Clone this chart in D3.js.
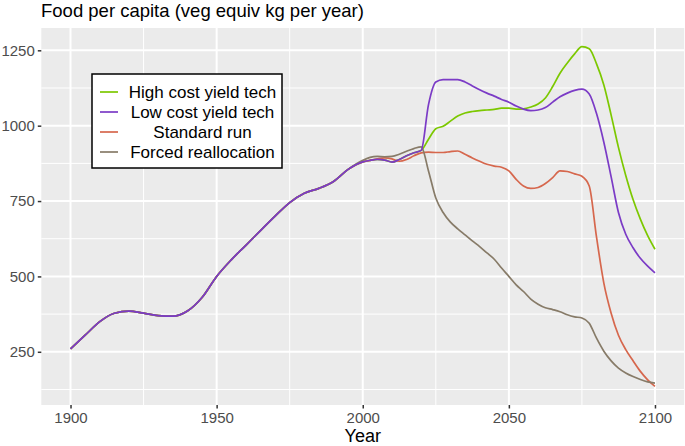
<!DOCTYPE html>
<html><head><meta charset="utf-8">
<script src="https://cdn.jsdelivr.net/npm/d3@7"></script>
<style>body{margin:0;background:#fff}svg{display:block}text{font-family:"Liberation Sans",Arial,sans-serif}</style>
</head><body>
<svg id="c" width="685" height="446"></svg>
<script>
// ---- data ----
const histYears = [1900,1905,1910,1915,1920,1925,1930,1935,1940,1945,1950,1955,1960,1965,1970,1975,1980,1985,1990,1995];
const histValues = [260,305,350,378,385,378,370,368,385,430,500,555,603,652,700,745,776,792,815,855];
const scenYears = [2000,2002.5,2005,2007.5,2010,2012.5,2015,2017.5,2020,2022.5,2025,2027.5,2030,2032.5,2035,2037.5,2040,2042.5,2045,2047.5,2050,2052.5,2055,2057.5,2060,2062.5,2065,2067.5,2070,2072.5,2075,2077.5,2080,2082.5,2085,2087.5,2090,2092.5,2095,2097.5,2100];
const highCost = [880,885,888,886,879,888,900,910,918,955,990,998,1015,1032,1042,1047,1050,1052,1054,1058,1058,1055,1056,1062,1072,1092,1130,1174,1208,1238,1262,1255,1205,1135,1035,928,835,755,690,635,590];
const lowCost = [880,885,888,886,879,888,900,910,918,1070,1145,1153,1153,1153,1145,1132,1119,1108,1098,1087,1078,1065,1055,1050,1052,1060,1078,1096,1108,1117,1121,1105,1040,945,830,712,640,595,560,534,512];
const standard = [880,885,890,893,890,882,888,900,910,912,911,911,914,916,905,893,882,872,866,862,850,822,800,792,795,808,828,850,848,840,832,800,630,478,378,305,257,220,185,157,135];
const forced = [885,895,898,897,898,905,915,924,930,850,760,712,680,658,638,618,599,578,557,528,500,472,450,425,408,396,390,383,373,366,362,345,295,252,220,196,180,168,158,150,146];
const seriesNames = ["High cost yield tech","Low cost yield tech","Standard run","Forced reallocation"];
const seriesColors = ["#7CC800","#7B3BC6","#D6674D","#877B68"];
const seriesValues = [highCost, lowCost, standard, forced];
const xTicks = [1900,1950,2000,2050,2100];
const xMinor = [1925,1975,2025,2075];
const yTicks = [250,500,750,1000,1250];
const yMinor = [125,375,625,875,1125];

// ---- layout ----
const svg = d3.select("#c");
const L = 41.3, R = 684.2, T = 28, B = 405;
const x = d3.scaleLinear().domain([1890,2110]).range([L,R]);
const y = d3.scaleLinear().domain([73.5,1324]).range([B,T]);

svg.append("rect").attr("x",L).attr("y",T).attr("width",R-L).attr("height",B-T).attr("fill","#EBEBEB");
const g = svg.append("g");
g.selectAll(".xm").data(xMinor).join("line").attr("x1",d=>x(d)).attr("x2",d=>x(d)).attr("y1",T).attr("y2",B).attr("stroke","#fff").attr("stroke-width",1);
g.selectAll(".ym").data(yMinor).join("line").attr("x1",L).attr("x2",R).attr("y1",d=>y(d)).attr("y2",d=>y(d)).attr("stroke","#fff").attr("stroke-width",1);
g.selectAll(".xM").data(xTicks).join("line").attr("x1",d=>x(d)).attr("x2",d=>x(d)).attr("y1",T).attr("y2",B).attr("stroke","#fff").attr("stroke-width",2);
g.selectAll(".yM").data(yTicks).join("line").attr("x1",L).attr("x2",R).attr("y1",d=>y(d)).attr("y2",d=>y(d)).attr("stroke","#fff").attr("stroke-width",2);

// axes
const xAxis = svg.append("g").attr("transform",`translate(0,${B})`).call(d3.axisBottom(x).tickValues(xTicks).tickFormat(d3.format("d")).tickSize(3.5).tickPadding(4));
const yAxis = svg.append("g").attr("transform",`translate(${L},0)`).call(d3.axisLeft(y).tickValues(yTicks).tickFormat(d3.format("d")).tickSize(3.5).tickPadding(3));
[xAxis,yAxis].forEach(a=>{a.select(".domain").remove();a.selectAll("line").attr("stroke","#333").attr("stroke-width",1.5);a.selectAll("text").attr("fill","#4D4D4D").style("font-size","15px").style("font-family","'Liberation Sans',Arial,sans-serif");});

// lines
const line = d3.line().x(d=>x(d[0])).y(d=>y(d[1])).curve(d3.curveMonotoneX);
const order = [0,2,3,1];
order.forEach(i=>{
  const pts = histYears.map((yr,k)=>[yr,histValues[k]]).concat(scenYears.map((yr,k)=>[yr,seriesValues[i][k]]));
  svg.append("path").attr("d",line(pts)).attr("fill","none").attr("stroke",seriesColors[i]).attr("stroke-width",1.7).attr("stroke-linejoin","round");
});

// titles
svg.append("text").attr("x",41).attr("y",17).text("Food per capita (veg equiv kg per year)").style("font-size","18.5px").attr("fill","#000");
svg.append("text").attr("x",(L+R)/2).attr("y",442).attr("text-anchor","middle").text("Year").style("font-size","18px").attr("fill","#000");

// legend
const lg = svg.append("g");
lg.append("rect").attr("x",92).attr("y",74).attr("width",190).attr("height",94).attr("fill","#fff").attr("stroke","#000").attr("stroke-width",1.5);
seriesNames.forEach((n,i)=>{
  const cy = 92 + i*20;
  lg.append("line").attr("x1",100).attr("x2",118).attr("y1",cy).attr("y2",cy).attr("stroke",seriesColors[i]).attr("stroke-width",1.7);
  lg.append("text").attr("x",202.5).attr("y",cy).attr("dy","0.36em").attr("text-anchor","middle").text(n).style("font-size","17px").attr("fill","#000");
});
</script>
</body></html>
